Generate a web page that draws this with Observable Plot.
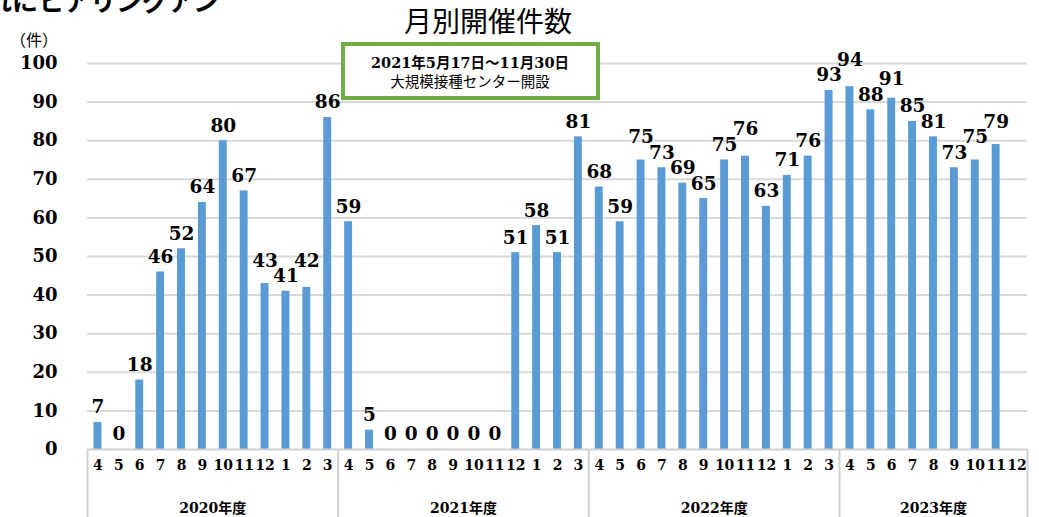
<!DOCTYPE html>
<html><head><meta charset="utf-8">
<script src="https://cdn.jsdelivr.net/npm/d3@7"></script>
<script src="https://cdn.jsdelivr.net/npm/@observablehq/plot@0.6"></script>
<style>
body{margin:0;background:#fff}
#chart{position:relative;width:1039px;height:517px;overflow:hidden;background:#fff}
#chart svg{overflow:hidden;position:absolute;left:0;top:0}
#cut{position:absolute;left:-14px;top:-13px;font:bold 26px/26px 'Noto Sans CJK JP','Noto Sans',sans-serif;color:#000;white-space:nowrap;z-index:2}
</style>
</head><body><div id="chart"><div id="cut"></div></div>
<script>
const titleText = "月別開催件数";
const unitLabel = "（件）";
const noteLine1 = "2021年5月17日～11月30日";
const noteLine2 = "大規模接種センター開設";
const cutHeading = "れにヒアリングアン";
const fiscalYears = ["2020年度", "2021年度", "2022年度", "2023年度"];
const monthsFull = [4, 5, 6, 7, 8, 9, 10, 11, 12, 1, 2, 3];
const months2023 = [4, 5, 6, 7, 8, 9, 10, 11, 12];
const counts2020 = [7, 0, 18, 46, 52, 64, 80, 67, 43, 41, 42, 86];
const counts2021 = [59, 5, 0, 0, 0, 0, 0, 0, 51, 58, 51, 81];
const counts2022 = [68, 59, 75, 73, 69, 65, 75, 76, 63, 71, 76, 93];
const counts2023 = [94, 88, 91, 85, 81, 73, 75, 79, null];
const yTicks = [0, 10, 20, 30, 40, 50, 60, 70, 80, 90, 100];

const seriesByYear = [
  [monthsFull, counts2020],
  [monthsFull, counts2021],
  [monthsFull, counts2022],
  [months2023, counts2023]
];
const rows = [];
const yearSpans = [];
seriesByYear.forEach(([months, counts], k) => {
  const start = rows.length;
  months.forEach((m, j) => rows.push({i: rows.length, fy: fiscalYears[k], month: m, value: counts[j]}));
  yearSpans.push({label: fiscalYears[k], start: start - 0.5, end: rows.length - 0.5, mid: (start + rows.length - 1) / 2});
});
const bars = rows.filter(d => d.value != null);
const boundaries = [yearSpans[0].start, ...yearSpans.map(s => s.end)];

// simple collision avoidance for neighbouring two-digit value labels (in data units)
const minGap = 4;
bars.forEach(d => d.labelY = d.value);
for (let k = 1; k < bars.length; k++) {
  const a = bars[k - 1], b = bars[k];
  if (b.i - a.i !== 1 || a.value < 10 || b.value < 10) continue;
  const diff = Math.abs(b.labelY - a.labelY);
  if (diff < minGap) {
    if (b.value >= a.value) b.labelY = a.labelY + minGap;
    else a.labelY = b.labelY + minGap;
  }
}

const serif = "'DejaVu Serif', 'Noto Sans CJK JP', serif";
const sans = "'Noto Sans CJK JP', 'Noto Sans', sans-serif";

const plot = Plot.plot({
  width: 1039,
  height: 517,
  marginLeft: 87,
  marginRight: 12,
  marginTop: 63,
  marginBottom: 68,
  x: {domain: [-0.5, rows.length - 0.5], axis: null},
  y: {domain: [0, 100], axis: null},
  style: {background: "#fff", color: "#000"},
  marks: [
    Plot.gridY(yTicks.filter(t => t > 0), {stroke: "#d9d9d9", strokeOpacity: 1, strokeWidth: 2}),
    Plot.axisY(yTicks, {label: null, tickSize: 0, tickPadding: 30, fontSize: 18, fontWeight: "bold", fontFamily: serif, fill: "#000"}),
    Plot.rectY(bars, {x1: d => d.i - 0.19, x2: d => d.i + 0.19, y: "value", fill: "#5B9BD5"}),
    Plot.ruleY([0], {stroke: "#d0d0d0", strokeWidth: 2}),
    Plot.ruleX(boundaries, {y1: 0, y2: -20, stroke: "#d0d0d0", strokeWidth: 2}),
    Plot.text(rows, {x: "i", y: 0, text: d => String(d.month), dy: 16, fontSize: 14, fontWeight: "bold", fontFamily: serif, fill: "#000"}),
    Plot.text(yearSpans, {x: "mid", y: 0, text: "label", dy: 59, fontSize: 14, fontWeight: "bold", fontFamily: serif, fill: "#000"}),
    Plot.text(bars, {x: "i", y: "labelY", text: d => String(d.value), dy: -15, fontSize: 18.5, fontWeight: "bold", fontFamily: serif, fill: "#000"})
  ]
});

const svg = d3.select(plot);
svg.append("text").attr("x", 488).attr("y", 22).attr("dy", "0.35em").attr("text-anchor", "middle")
  .attr("font-size", 28).attr("font-family", sans).attr("fill", "#000").text(titleText);
svg.append("text").attr("x", 34).attr("y", 40).attr("dy", "0.35em").attr("text-anchor", "middle")
  .attr("font-size", 16).attr("font-family", sans).attr("fill", "#000").text(unitLabel);
svg.append("rect").attr("x", 343).attr("y", 44).attr("width", 255).attr("height", 54)
  .attr("fill", "#fff").attr("stroke", "#70AD47").attr("stroke-width", 4);
svg.append("text").attr("x", 470).attr("y", 63).attr("dy", "0.35em").attr("text-anchor", "middle")
  .attr("font-size", 14.5).attr("font-weight", "bold").attr("font-family", serif).attr("fill", "#000").text(noteLine1);
svg.append("text").attr("x", 470).attr("y", 82).attr("dy", "0.35em").attr("text-anchor", "middle")
  .attr("font-size", 14.5).attr("font-family", sans).attr("fill", "#000").text(noteLine2);

document.getElementById("chart").appendChild(plot);
document.getElementById("cut").textContent = cutHeading;
</script>
</body></html>
